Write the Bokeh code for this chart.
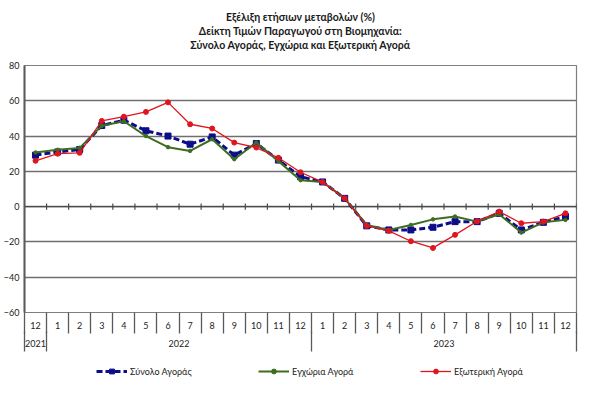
import numpy as np
from bokeh.plotting import figure
from bokeh.layouts import column
from bokeh.models import (Range1d, LinearAxis, FixedTicker, Title, Legend, LegendItem, Grid)
from bokeh.embed import file_html
from bokeh.resources import INLINE

# ---- data ----
months = ["12", "1", "2", "3", "4", "5", "6", "7", "8", "9", "10", "11",
          "12", "1", "2", "3", "4", "5", "6", "7", "8", "9", "10", "11", "12"]
years = ["2021", "2022", "2023"]
year_start = [0, 1, 13]
year_len = [1, 12, 12]

total = [29.2, 31.0, 32.4, 46.0, 49.0, 43.0, 40.0, 35.4, 39.5, 29.2, 35.8, 26.4,
         17.0, 14.0, 4.7, -10.9, -13.2, -13.2, -11.7, -8.5, -8.5, -3.8, -13.2, -8.9, -5.6]
domestic = [30.7, 32.2, 33.3, 45.8, 48.4, 40.0, 33.7, 31.6, 38.2, 26.9, 36.3, 25.8,
            15.0, 14.0, 4.7, -10.4, -13.2, -10.4, -7.2, -5.6, -8.5, -4.3, -14.7, -8.9, -7.5]
external = [26.0, 30.0, 30.5, 48.6, 51.0, 53.7, 59.1, 46.7, 44.3, 36.3, 33.5, 27.7,
            19.5, 13.9, 4.7, -10.9, -13.7, -19.6, -23.4, -16.0, -8.3, -2.8, -9.4, -8.5, -3.8]

series_names = ["Σύνολο Αγοράς", "Εγχώρια Αγορά", "Εξωτερική Αγορά"]
title_lines = ["Εξέλιξη ετήσιων μεταβολών (%)",
               "Δείκτη Τιμών Παραγωγού στη Βιομηχανία:",
               "Σύνολο Αγοράς, Εγχώρια και Εξωτερική Αγορά"]
y_ticks = [-60, -40, -20, 0, 20, 40, 60, 80]

FONT = "Lato"
TXT = "#222222"
LINE = "#5a5a5a"
BLUE, GREEN, RED = "#0d0d8a", "#3d6e20", "#e0151f"
n = len(months)
xc = np.arange(n) + 0.5
bounds = list(range(n + 1))

p = figure(width=584, height=353, x_range=Range1d(0, n), y_range=Range1d(-60, 80),
           output_backend="svg", toolbar_location=None, x_axis_type=None, y_axis_type=None,
           min_border_left=19, min_border_right=8, min_border_top=65, min_border_bottom=41)
p.background_fill_color = "white"
p.border_fill_color = "white"
p.outline_line_color = "#7f7f7f"
p.outline_line_width = 1.2

# y axis
yax = LinearAxis(ticker=FixedTicker(ticks=y_ticks))
yax.axis_line_color = LINE
yax.axis_line_width = 2
yax.major_tick_out = 0
yax.major_tick_in = 0
yax.minor_tick_out = 0
yax.major_label_standoff = 5
yax.major_label_text_font = FONT
yax.major_label_text_font_size = "9px"
yax.major_label_text_color = TXT
p.add_layout(yax, "left")

p.add_layout(Grid(dimension=1, ticker=yax.ticker, grid_line_color="#6f6f6f", grid_line_width=1.3))

# month axis
mon_ax = LinearAxis(ticker=FixedTicker(ticks=list(xc), minor_ticks=bounds),
                    major_label_overrides={float(x): m for x, m in zip(xc, months)})
mon_ax.axis_line_color = None
mon_ax.major_tick_out = 0
mon_ax.major_tick_in = 0
mon_ax.minor_tick_out = 21
mon_ax.minor_tick_in = 0
mon_ax.minor_tick_line_color = LINE
mon_ax.minor_tick_line_width = 1.3
mon_ax.major_label_standoff = -12
mon_ax.major_label_text_font = FONT
mon_ax.major_label_text_font_size = "9px"
mon_ax.major_label_text_color = TXT
p.add_layout(mon_ax, "below")

# year axis
ycent = [s + l / 2 for s, l in zip(year_start, year_len)]
ybounds = year_start + [n]
yr_ax = LinearAxis(ticker=FixedTicker(ticks=ycent, minor_ticks=ybounds),
                   major_label_overrides={float(c): y for c, y in zip(ycent, years)})
yr_ax.axis_line_color = None
yr_ax.major_tick_out = 0
yr_ax.major_tick_in = 0
yr_ax.minor_tick_out = 20
yr_ax.minor_tick_in = 0
yr_ax.minor_tick_line_color = LINE
yr_ax.minor_tick_line_width = 1.3
yr_ax.major_label_standoff = -12
yr_ax.major_label_text_font = FONT
yr_ax.major_label_text_font_size = "9px"
yr_ax.major_label_text_color = TXT
p.add_layout(yr_ax, "below")

# small ticks on the zero line
p.segment(x0=bounds, y0=[-1.8] * len(bounds), x1=bounds, y1=[1.8] * len(bounds),
          line_color="#4a4a4a", line_width=1.2)
p.segment(x0=[0], y0=[0], x1=[n], y1=[0], line_color="#4a4a4a", line_width=1.3)

# series
STY = [dict(line_color=BLUE, line_width=3, line_dash="6 3"),
       dict(line_color=GREEN, line_width=2),
       dict(line_color=RED, line_width=1.3)]
MK = [dict(marker="square", size=6, fill_color=BLUE, line_color=BLUE),
      dict(marker="circle", size=3.5, fill_color=GREEN, line_color=GREEN),
      dict(marker="circle", size=5, fill_color=RED, line_color=RED)]
SERIES = [total, domestic, external]
for vals, ls, mk in zip(SERIES, STY, MK):
    p.line(xc, vals, **ls)
    p.scatter(xc, vals, **mk)

# titles: spacer closest to the frame, then the three lines (bottom to top)
p.add_layout(Title(text=" ", text_font_size="1px", standoff=12), "above")
for t in reversed(title_lines):
    p.add_layout(Title(text=t, align="center", text_font=FONT, text_font_size="10.5px",
                       text_font_style="bold", text_color="#1a1a1a", standoff=0, offset=0),
                 "above")

# legend strip below (series drawn off-screen, only their legend glyphs show)
lf = figure(width=584, height=30, x_range=Range1d(-3, -2), y_range=Range1d(0, 1),
            output_backend="svg", toolbar_location=None, x_axis_type=None, y_axis_type=None,
            min_border_left=0, min_border_right=0, min_border_top=0, min_border_bottom=0)
lf.outline_line_color = None
lf.grid.visible = False
lf.background_fill_color = "white"
lf.border_fill_color = "white"
items = []
for name, vals, ls, mk in zip(series_names, SERIES, STY, MK):
    r1 = lf.line(xc, vals, **ls)
    r2 = lf.scatter(xc, vals, **mk)
    items.append(LegendItem(label=name, renderers=[r1, r2]))
legend = Legend(items=items, location=(72, 6), orientation="horizontal", padding=0, margin=0,
                spacing=0, glyph_width=31, glyph_height=12, label_height=12,
                label_width=128, label_standoff=3,
                label_text_font=FONT, label_text_font_size="9px", label_text_color=TXT,
                border_line_color=None, background_fill_alpha=0)
lf.add_layout(legend, "center")

open("out.html", "w").write(file_html(column(p, lf, spacing=0), INLINE))
